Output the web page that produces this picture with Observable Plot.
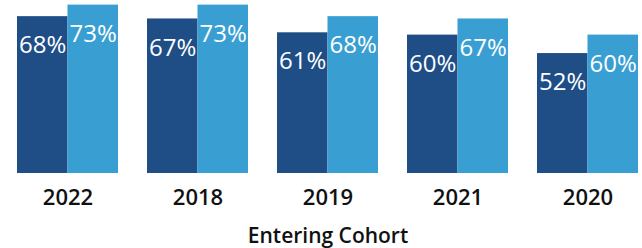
<!DOCTYPE html>
<html>
<head>
<meta charset="utf-8">
<script src="https://cdn.jsdelivr.net/npm/d3@7"></script>
<script src="https://cdn.jsdelivr.net/npm/@observablehq/plot@0.6"></script>
<style>
  html, body { margin: 0; padding: 0; background: #fff; }
  svg { display: block; }
</style>
</head>
<body>
<div id="chart"></div>
<script>
const cohorts = ["2022", "2018", "2019", "2021", "2020"];
const seriesA = [68, 67, 61, 60, 52];
const seriesB = [73, 73, 68, 67, 60];
const axisTitle = "Entering Cohort";

const colorA = "#1f4e87";
const colorB = "#399fd3";
const font = "'Open Sans', 'Noto Sans', sans-serif";

const dataA = cohorts.map((c, i) => ({cohort: c, value: seriesA[i]}));
const dataB = cohorts.map((c, i) => ({cohort: c, value: seriesB[i]}));

const half = 101 / 2;

const chart = Plot.plot({
  width: 642,
  height: 248,
  marginLeft: 17,
  marginRight: 4,
  marginTop: 0,
  marginBottom: 75,
  style: {fontFamily: font, background: "#fff"},
  x: {domain: cohorts, paddingInner: 29 / 130, paddingOuter: 0, label: null},
  y: {domain: [0, 75], axis: null},
  marks: [
    Plot.barY(dataA, {x: "cohort", y: "value", fill: colorA, insetRight: half, insetLeft: 0}),
    Plot.barY(dataB, {x: "cohort", y: "value", fill: colorB, insetLeft: half, insetRight: 0}),
    Plot.text(dataA, {x: "cohort", y: "value", text: d => d.value + "%", dx: -half / 2, dy: 29, fill: "#fff", fontSize: 24, fontWeight: 500, fontFamily: font}),
    Plot.text(dataB, {x: "cohort", y: "value", text: d => d.value + "%", dx: half / 2, dy: 29, fill: "#fff", fontSize: 24, fontWeight: 500, fontFamily: font}),
    Plot.axisX({tickSize: 0, tickPadding: 16, fontSize: 22, fontWeight: 600, fill: "#111", label: null, fontFamily: font}),
    Plot.text([axisTitle], {frameAnchor: "bottom", lineAnchor: "bottom", dy: 69, fontSize: 21, fontWeight: 600, fill: "#111", fontFamily: font})
  ]
});
document.getElementById("chart").appendChild(chart);
</script>
</body>
</html>
